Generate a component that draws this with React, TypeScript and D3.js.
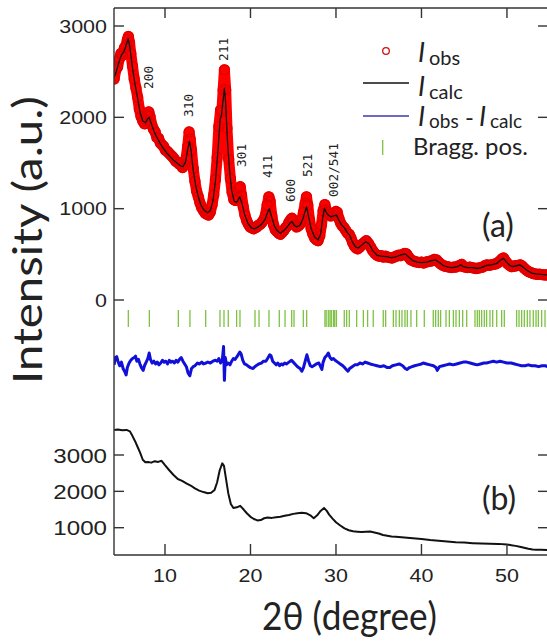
import React from 'react';
import * as d3 from 'd3';

// ---------- data ----------
const X_TICKS = [10, 20, 30, 40, 50];
const Y_TICKS_A = [0, 1000, 2000, 3000];
const Y_TICKS_B = [1000, 2000, 3000];

// observed intensity (2θ, I)
const OBS: [number, number][] = [
  [4.05,2420],[4.25,2520],[4.45,2550],[4.65,2640],[4.85,2700],[5.05,2680],[5.25,2760],[5.45,2790],[5.6,2850],[5.72,2885],
  [5.85,2820],[6.0,2700],[6.2,2560],[6.4,2420],[6.6,2320],[6.8,2220],[7.0,2090],[7.2,2010],[7.4,1960],[7.6,1930],
  [7.8,1970],[7.95,2020],[8.1,2060],[8.25,2010],[8.45,1920],[8.65,1870],[8.85,1840],[9.05,1780],[9.25,1770],[9.45,1720],
  [9.65,1700],[9.85,1680],[10.05,1640],[10.25,1630],[10.45,1610],[10.65,1590],[10.85,1570],[11.05,1550],[11.25,1520],[11.45,1510],
  [11.65,1490],[11.85,1480],[12.05,1450],[12.25,1480],[12.45,1540],[12.65,1680],[12.82,1840],[12.95,1760],[13.1,1640],[13.3,1440],
  [13.5,1300],[13.7,1190],[13.9,1130],[14.1,1060],[14.3,1010],[14.5,980],[14.7,950],[14.9,940],[15.1,930],[15.3,960],
  [15.5,1040],[15.7,1150],[15.9,1320],[16.1,1560],[16.3,1900],[16.5,2080],[16.65,2060],[16.8,2300],[16.95,2520],[17.1,2300],
  [17.25,1880],[17.45,1540],[17.65,1330],[17.85,1180],[18.05,1100],[18.25,1090],[18.45,1120],[18.65,1220],[18.8,1240],[18.95,1150],
  [19.15,1020],[19.35,930],[19.55,870],[19.75,830],[19.95,800],[20.15,790],[20.35,780],[20.55,790],[20.75,800],[20.95,820],
  [21.15,830],[21.35,850],[21.55,880],[21.75,930],[21.95,1040],[22.15,1130],[22.3,1080],[22.5,920],[22.7,820],[22.9,770],
  [23.1,750],[23.3,730],[23.5,720],[23.7,740],[23.9,760],[24.1,790],[24.3,810],[24.5,850],[24.7,880],[24.85,895],
  [25.0,860],[25.2,820],[25.4,800],[25.6,810],[25.8,830],[26.0,880],[26.2,960],[26.4,1060],[26.55,1130],[26.7,1040],
  [26.9,880],[27.1,780],[27.3,720],[27.5,680],[27.7,660],[27.9,650],[28.1,700],[28.3,820],[28.5,980],[28.7,1045],
  [28.85,990],[29.0,960],[29.2,940],[29.4,920],[29.6,930],[29.8,950],[30.0,970],[30.15,960],[30.35,890],[30.55,840],
  [30.75,810],[30.95,790],[31.15,760],[31.35,730],[31.55,720],[31.75,680],[31.95,630],[32.15,590],[32.35,570],[32.55,560],
  [32.8,580],[33.05,610],[33.3,630],[33.55,650],[33.8,620],[34.05,580],[34.3,540],[34.55,510],[34.8,490],[35.05,480],
  [35.3,485],[35.55,470],[35.8,480],[36.05,470],[36.3,465],[36.55,460],[36.8,470],[37.05,480],[37.3,490],[37.55,485],
  [37.8,500],[38.05,510],[38.25,505],[38.5,470],[38.75,440],[39.0,430],[39.25,420],[39.5,415],[39.75,410],[40.0,415],
  [40.25,405],[40.5,415],[40.75,420],[41.0,425],[41.25,430],[41.5,445],[41.75,440],[42.0,415],[42.25,395],[42.5,380],
  [42.75,370],[43.0,365],[43.25,360],[43.5,355],[43.75,360],[44.0,360],[44.25,370],[44.5,380],[44.7,390],[44.9,365],
  [45.15,360],[45.4,355],[45.65,360],[45.9,355],[46.15,350],[46.4,345],[46.65,350],[46.9,355],[47.15,360],[47.4,375],
  [47.65,385],[47.9,380],[48.15,385],[48.4,390],[48.65,395],[48.9,405],[49.15,425],[49.4,450],[49.6,460],[49.8,430],
  [50.05,400],[50.3,380],[50.55,365],[50.8,370],[51.05,375],[51.3,380],[51.55,385],[51.8,370],[52.05,345],[52.3,325],
  [52.55,310],[52.8,300],[53.05,290],[53.3,285],[53.55,280],[53.8,282],[54.05,278],[54.3,276],[54.55,275],[54.8,274]
];

// calculated intensity (2θ, I)
const CALC: [number, number][] = [
  [4.05,2440],[4.3,2500],[4.6,2600],[4.9,2680],[5.2,2720],[5.45,2790],[5.7,2860],[5.9,2760],[6.2,2540],[6.5,2360],
  [6.85,2180],[7.1,2050],[7.4,1960],[7.7,1940],[7.95,1980],[8.15,2000],[8.4,1930],[8.7,1850],[9.0,1790],[9.4,1720],
  [9.8,1660],[10.2,1610],[10.6,1570],[11.0,1530],[11.4,1500],[11.8,1470],[12.1,1460],[12.4,1510],[12.65,1640],[12.85,1740],
  [13.05,1640],[13.3,1420],[13.6,1250],[13.9,1130],[14.2,1040],[14.6,980],[15.0,955],[15.3,980],[15.6,1080],[15.9,1300],
  [16.2,1640],[16.45,1980],[16.6,2020],[16.75,2150],[16.95,2320],[17.1,2150],[17.3,1750],[17.55,1420],[17.8,1200],[18.1,1080],
  [18.4,1070],[18.75,1130],[19.0,1060],[19.3,940],[19.7,840],[20.1,790],[20.5,780],[20.9,800],[21.3,830],[21.7,880],
  [22.0,960],[22.2,1000],[22.45,920],[22.8,810],[23.1,760],[23.5,730],[23.9,760],[24.3,800],[24.6,840],[24.85,860],
  [25.1,820],[25.4,800],[25.8,820],[26.1,880],[26.35,960],[26.55,1020],[26.8,910],[27.1,780],[27.5,690],[27.9,660],
  [28.2,720],[28.45,900],[28.65,1005],[28.85,960],[29.1,930],[29.4,910],[29.7,920],[30.05,930],[30.3,880],[30.6,830],
  [31.0,790],[31.3,740],[31.6,710],[31.9,640],[32.3,580],[32.6,570],[33.0,600],[33.5,640],[33.9,610],[34.3,540],
  [34.8,490],[35.3,480],[35.9,475],[36.4,465],[36.9,470],[37.5,490],[38.1,505],[38.5,470],[39.0,430],[39.5,415],
  [40.0,410],[40.6,415],[41.2,430],[41.6,440],[42.1,410],[42.6,375],[43.1,360],[43.6,355],[44.2,365],[44.6,385],
  [44.9,365],[45.4,355],[46.0,355],[46.5,345],[47.0,355],[47.6,380],[48.2,385],[48.8,400],[49.3,440],[49.6,455],
  [49.9,420],[50.3,380],[50.7,365],[51.1,375],[51.5,385],[51.9,360],[52.4,320],[52.9,295],[53.4,285],[54.0,280],[54.8,275]
];

// Iobs - Icalc (2θ, ΔI), plotted with an offset
const DIFF: [number, number][] = [
  [4.05,-20],[4.2,60],[4.35,70],[4.5,20],[4.7,-30],[4.9,10],[5.1,-60],[5.3,-95],[5.45,-130],[5.6,-50],
  [5.8,0],[6.0,30],[6.2,50],[6.4,60],[6.55,75],[6.7,20],[6.9,40],[7.1,-20],[7.3,-60],[7.45,-80],
  [7.6,-30],[7.8,10],[8.0,50],[8.15,110],[8.3,40],[8.5,0],[8.7,20],[8.9,-10],[9.1,10],[9.3,-20],
  [9.5,0],[9.7,30],[9.9,10],[10.1,20],[10.3,-10],[10.5,30],[10.7,10],[10.9,20],[11.1,0],[11.3,30],
  [11.5,10],[11.7,40],[11.9,60],[12.1,20],[12.3,-10],[12.5,-40],[12.7,-110],[12.9,-140],[13.1,-60],[13.3,-40],
  [13.5,-30],[13.8,0],[14.0,-10],[14.3,10],[14.5,-10],[14.8,0],[15.0,10],[15.3,0],[15.6,20],[15.9,30],
  [16.1,20],[16.3,50],[16.5,0],[16.7,30],[16.85,180],[16.95,-190],[17.05,60],[17.2,-20],[17.4,0],[17.6,-20],
  [17.8,20],[18.0,50],[18.2,40],[18.5,80],[18.75,120],[18.9,100],[19.1,30],[19.3,-10],[19.55,-20],[19.8,-40],
  [20.0,-50],[20.3,-60],[20.5,-40],[20.8,-20],[21.0,-10],[21.3,0],[21.5,20],[21.8,20],[22.0,50],[22.25,90],
  [22.4,80],[22.6,20],[22.8,0],[23.0,-20],[23.2,0],[23.4,-30],[23.6,-10],[23.8,-20],[24.0,0],[24.2,-10],
  [24.5,10],[24.8,30],[25.0,10],[25.2,-10],[25.5,-40],[25.8,-60],[26.0,-90],[26.2,-50],[26.4,20],[26.6,90],
  [26.8,20],[27.0,-30],[27.2,-40],[27.4,-30],[27.7,-10],[28.0,0],[28.2,-40],[28.35,-70],[28.5,10],[28.7,60],
  [28.9,80],[29.1,110],[29.3,60],[29.5,40],[29.7,50],[29.9,30],[30.2,10],[30.5,-10],[30.8,-30],[31.0,-50],
  [31.2,-70],[31.4,-90],[31.6,-60],[31.9,-40],[32.2,-20],[32.5,-20],[32.8,0],[33.1,-10],[33.4,10],[33.7,0],
  [34.0,-10],[34.4,-20],[34.8,-30],[35.2,-40],[35.6,-30],[36.0,-50],[36.3,-50],[36.6,-30],[37.0,-20],[37.4,-10],
  [37.8,-30],[38.1,-60],[38.3,-70],[38.6,-50],[38.9,-40],[39.2,-30],[39.6,-20],[40.0,-10],[40.2,0],[40.6,-10],
  [41.0,-20],[41.4,-30],[41.7,-50],[41.85,-80],[42.1,-40],[42.5,-30],[42.9,-20],[43.3,-10],[43.7,-20],[44.1,-10],
  [44.5,0],[44.9,10],[45.3,10],[45.7,0],[46.1,-10],[46.5,-20],[46.9,-10],[47.3,0],[47.6,0],[48.0,10],
  [48.4,20],[48.8,10],[49.2,20],[49.6,10],[50.0,0],[50.5,0],[50.9,-10],[51.3,-20],[51.7,-30],[52.1,-30],
  [52.5,-20],[52.9,-30],[53.3,-30],[53.7,-40],[54.1,-30],[54.5,-30],[54.8,-40]
];
const DIFF_OFFSET = -690;

// Bragg reflection positions (2θ)
const BRAGG: number[] = [
  5.71, 8.17, 11.56, 12.92, 14.76, 16.43, 16.9, 17.4, 18.38, 18.77, 20.53, 21.0, 22.16, 23.37, 24.04, 24.82, 25.09,
  26.18, 26.57, 28.71, 28.85, 29.1, 29.3, 29.45, 29.7, 29.85, 30.05, 30.97, 31.25, 31.56, 32.42, 33.2, 33.7, 34.36,
  35.53, 35.81, 36.71, 37.02, 37.41, 37.72, 38.07, 38.34, 38.77, 39.44, 40.33, 41.38, 41.66, 41.97, 42.24, 42.87,
  43.26, 43.73, 44.04, 44.43, 44.82, 45.29, 46.26, 46.53, 46.77, 47.04, 47.35, 47.62, 48.01, 48.33, 48.8, 49.38,
  49.69, 51.13, 51.41, 51.72, 52.03, 52.38, 52.69, 53.08, 53.4, 53.67, 54.06, 54.45
];

// hkl labels: text, 2θ, intensity level of label foot
const PEAK_LABELS = ['200', '310', '211', '301', '411', '600', '521', '002/541'];
const PEAK_THETA = [8.01, 12.69, 16.78, 18.89, 21.93, 24.62, 26.61, 29.65];
const PEAK_FOOT = [2311, 2004, 2618, 1457, 1336, 1073, 1347, 1128];

// panel (b) pattern (2θ, I)
const CURVE_B: [number, number][] = [
  [4.05,3690],[4.5,3700],[5.0,3680],[5.5,3690],[5.9,3650],[6.2,3520],[6.5,3380],[6.8,3220],[7.1,3060],[7.4,2870],
  [7.7,2800],[8.0,2810],[8.4,2790],[8.8,2830],[9.2,2810],[9.6,2840],[10.0,2720],[10.5,2580],[11.0,2450],[11.5,2340],
  [12.0,2290],[12.5,2220],[13.0,2160],[13.5,2080],[14.0,2020],[14.5,1980],[15.0,1950],[15.4,1960],[15.8,2040],[16.1,2250],
  [16.4,2580],[16.7,2770],[16.9,2700],[17.1,2400],[17.4,1950],[17.7,1650],[18.0,1540],[18.4,1560],[18.8,1600],[19.2,1500],
  [19.6,1390],[20.0,1300],[20.4,1240],[20.8,1200],[21.2,1210],[21.6,1260],[22.0,1280],[22.5,1270],[23.0,1290],[23.5,1300],
  [24.0,1330],[24.5,1350],[25.0,1380],[25.5,1400],[26.0,1410],[26.5,1400],[27.0,1340],[27.4,1260],[27.8,1340],[28.2,1460],
  [28.6,1540],[28.9,1470],[29.2,1360],[29.6,1250],[30.0,1150],[30.5,1060],[31.0,980],[31.5,930],[32.0,900],[32.5,890],
  [33.0,880],[33.5,890],[34.0,895],[34.5,870],[35.0,840],[35.5,800],[36.0,780],[36.5,760],[37.0,750],[38.0,730],
  [39.0,710],[40.0,690],[41.0,660],[42.0,640],[43.0,620],[44.0,600],[45.0,590],[46.0,575],[47.0,565],[48.0,560],
  [49.0,555],[50.0,540],[50.5,520],[51.0,500],[51.5,475],[52.0,450],[52.5,420],[53.0,400],[53.5,395],[54.0,390],[54.8,385]
];

// ---------- layout ----------
const W = 547, H = 642;
const L = 114, R = 548, T = 8, B = 555;
const AXIS = '#333';
const SANS = '"Liberation Sans", Arial, sans-serif';
const HUM = 'Lato, "Open Sans", sans-serif';

export default function App() {
  const x = d3.scaleLinear().domain([4.035, 54.8]).range([L, R]);
  const yA = d3.scaleLinear().domain([0, 3000]).range([300, 26]);
  const yB = d3.scaleLinear().domain([1000, 3000]).range([527.7, 455]);

  const lineA = d3.line<[number, number]>().x(d => x(d[0])).y(d => yA(d[1]));
  const lineDiff = d3.line<[number, number]>().x(d => x(d[0])).y(d => yA(d[1] + DIFF_OFFSET));
  const lineB = d3.line<[number, number]>().x(d => x(d[0])).y(d => yB(d[1]));

  return (
    <svg width={W} height={H} style={{ position: 'absolute', left: 0, top: 0, background: '#fff' }}>
      <defs>
        <clipPath id="plot">
          <rect x={L} y={T} width={R - L} height={B - T} />
        </clipPath>
      </defs>
      <rect x={0} y={0} width={W} height={H} fill="#fff" />

      <g clipPath="url(#plot)">
        {/* observed: thick red band of circles */}
        <path d={lineA(OBS) || ''} fill="none" stroke="#ff0000" strokeWidth={11} strokeLinejoin="round" strokeLinecap="round" />
        {OBS.map((d, i) => (
          <circle key={i} cx={x(d[0])} cy={yA(d[1])} r={5} fill="none" stroke="#e00000" strokeWidth={1.3} />
        ))}
        {/* calculated */}
        <path d={lineA(CALC) || ''} fill="none" stroke="#111" strokeWidth={1.3} strokeLinejoin="round" />
        {/* Bragg positions */}
        {BRAGG.map((t, i) => (
          <line key={i} x1={x(t)} x2={x(t)} y1={yA(-110)} y2={yA(-295)} stroke="#7dc242" strokeWidth={1.3} />
        ))}
        {/* difference */}
        <path d={lineDiff(DIFF) || ''} fill="none" stroke="#1010d8" strokeWidth={3} strokeLinejoin="round" />
        {/* panel b */}
        <path d={lineB(CURVE_B) || ''} fill="none" stroke="#111" strokeWidth={2} strokeLinejoin="round" />
      </g>

      {/* peak labels */}
      {PEAK_LABELS.map((s, i) => (
        <text key={s} transform={`translate(${x(PEAK_THETA[i]) + 4.6},${yA(PEAK_FOOT[i])}) rotate(-90)`}
          fontFamily='"DejaVu Sans Mono", monospace' fontSize={12.8} fill="#222">{s}</text>
      ))}

      {/* frame / axes */}
      <line x1={L} x2={L} y1={T} y2={B} stroke={AXIS} strokeWidth={1.4} />
      <line x1={L} x2={R} y1={T} y2={T} stroke={AXIS} strokeWidth={1.4} />
      <line x1={L} x2={R} y1={B} y2={B} stroke={AXIS} strokeWidth={1.4} />
      <line x1={R} x2={R} y1={T} y2={B} stroke={AXIS} strokeWidth={1.4} />

      {X_TICKS.map(t => (
        <g key={t}>
          <line x1={x(t)} x2={x(t)} y1={T} y2={T + 10} stroke={AXIS} strokeWidth={1.4} />
          <line x1={x(t)} x2={x(t)} y1={B} y2={B - 11} stroke={AXIS} strokeWidth={1.4} />
          <text transform={`translate(${x(t)},581.7) scale(1.13,1)`} textAnchor="middle"
            fontFamily={SANS} fontSize={19} fill="#222">{t}</text>
        </g>
      ))}
      {Y_TICKS_A.map(t => (
        <g key={t}>
          <line x1={L} x2={L + 10} y1={yA(t)} y2={yA(t)} stroke={AXIS} strokeWidth={1.4} />
          <line x1={R - 10} x2={R} y1={yA(t)} y2={yA(t)} stroke={AXIS} strokeWidth={1.4} />
          <text transform={`translate(107,${yA(t) + 6.8}) scale(1.13,1)`} textAnchor="end"
            fontFamily={SANS} fontSize={19} fill="#222">{t}</text>
        </g>
      ))}
      {Y_TICKS_B.map(t => (
        <g key={t}>
          <line x1={L} x2={L + 10} y1={yB(t)} y2={yB(t)} stroke={AXIS} strokeWidth={1.4} />
          <line x1={R - 10} x2={R} y1={yB(t)} y2={yB(t)} stroke={AXIS} strokeWidth={1.4} />
          <text transform={`translate(107,${yB(t) + 7.5}) scale(1.15,1)`} textAnchor="end"
            fontFamily={SANS} fontSize={21} fill="#222">{t}</text>
        </g>
      ))}

      {/* axis titles */}
      <text transform="translate(42,240) rotate(-90)" textAnchor="middle" fontFamily={HUM} fontSize={40}
        fill="#222" textLength={288} lengthAdjust="spacingAndGlyphs">Intensity (a.u.)</text>
      <text x={349.5} y={630} textAnchor="middle" fontFamily={HUM} fontSize={38} fill="#222"
        textLength={175} lengthAdjust="spacingAndGlyphs">2θ (degree)</text>

      {/* panel tags */}
      <text x={482} y={237} fontFamily={HUM} fontSize={32} fill="#222">(a)</text>
      <text x={482} y={510} fontFamily={HUM} fontSize={32} fill="#222">(b)</text>

      {/* legend */}
      <g fontFamily={HUM} fill="#222">
        <circle cx={386} cy={51} r={3.3} fill="#fff" stroke="#d01010" strokeWidth={1.3} />
        <text x={418} y={62}>
          <tspan fontSize={27} fontStyle="italic">I</tspan>
          <tspan x={429} dy={3} fontSize={20}>obs</tspan>
        </text>

        <line x1={363} x2={409} y1={83} y2={83} stroke="#111" strokeWidth={1.3} />
        <text x={418} y={96}>
          <tspan fontSize={27} fontStyle="italic">I</tspan>
          <tspan x={429} dy={3} fontSize={20}>calc</tspan>
        </text>

        <line x1={363} x2={409} y1={116} y2={116} stroke="#3a3ab0" strokeWidth={1.6} />
        <text x={418} y={126}>
          <tspan fontSize={27} fontStyle="italic">I</tspan>
          <tspan x={429} dy={2} fontSize={19}>obs</tspan>
          <tspan x={465} dy={-2} fontSize={24}>-</tspan>
          <tspan x={479} fontSize={27} fontStyle="italic">I</tspan>
          <tspan x={490} dy={2} fontSize={19}>calc</tspan>
        </text>

        <line x1={382.7} x2={382.7} y1={140} y2={155} stroke="#7dc242" strokeWidth={1.3} />
        <text x={413} y={155} fontSize={23} textLength={115} lengthAdjust="spacingAndGlyphs">Bragg. pos.</text>
      </g>
    </svg>
  );
}
